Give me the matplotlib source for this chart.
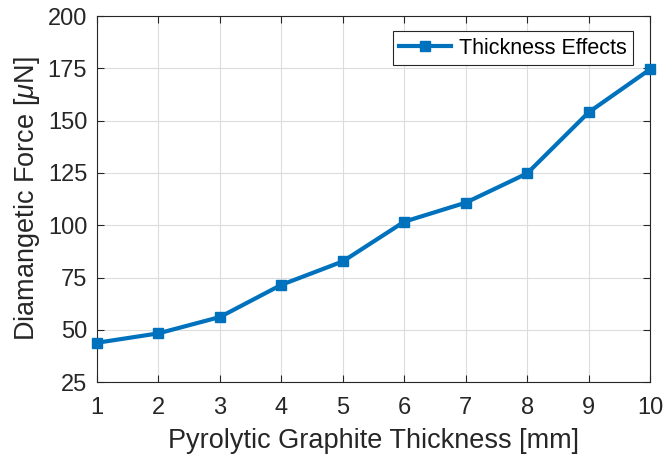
import numpy as np
import matplotlib as mpl
import matplotlib.pyplot as plt

mpl.rcParams.update({
    "font.family": ["Liberation Sans", "DejaVu Sans"],
    "mathtext.fontset": "custom",
    "mathtext.it": "Liberation Sans:italic",
    "mathtext.rm": "Liberation Sans",
})

# values
thickness = [1, 2, 3, 4, 5, 6, 7, 8, 9, 10]
force = [43.8, 48.3, 56.1, 71.5, 82.7, 101.7, 110.8, 124.8, 154.0, 174.6]
xticks = list(range(1, 11))
yticks = [25, 50, 75, 100, 125, 150, 175, 200]

fig = plt.figure(figsize=(6.64, 4.62), dpi=100)
ax = fig.add_axes([0.146, 0.173, 0.833, 0.792])

ax.plot(thickness, force, "-s", color="#0072BD", lw=3, ms=6.5,
        label="Thickness Effects", clip_on=False, zorder=3)

ax.set_xlim(1, 10)
ax.set_ylim(25, 200)
ax.set_xticks(xticks)
ax.set_yticks(yticks)
ax.grid(True, color="#dcdcdc", lw=0.8)
ax.set_axisbelow(True)
ax.tick_params(direction="in", top=True, right=True, labelsize=17,
               colors="#262626", length=5)
ax.tick_params(axis="y", pad=7)
ax.tick_params(axis="x", pad=11)
for s in ax.spines.values():
    s.set_color("#262626")
    s.set_linewidth(0.8)

ax.set_xlabel("Pyrolytic Graphite Thickness [mm]", fontsize=19.5,
              color="#262626", labelpad=6)
ax.set_ylabel(r"Diamangetic Force [$\mu$N]", fontsize=19.5,
              color="#262626", labelpad=4)

leg = ax.legend(loc="upper right", fontsize=15.5, fancybox=False,
                framealpha=1, edgecolor="#262626", handlelength=2.4,
                handletextpad=0.35, borderpad=0.3, borderaxespad=0,
                bbox_to_anchor=(0.969, 0.959))
leg.get_frame().set_linewidth(0.8)

fig.savefig("out.png", dpi=100)
